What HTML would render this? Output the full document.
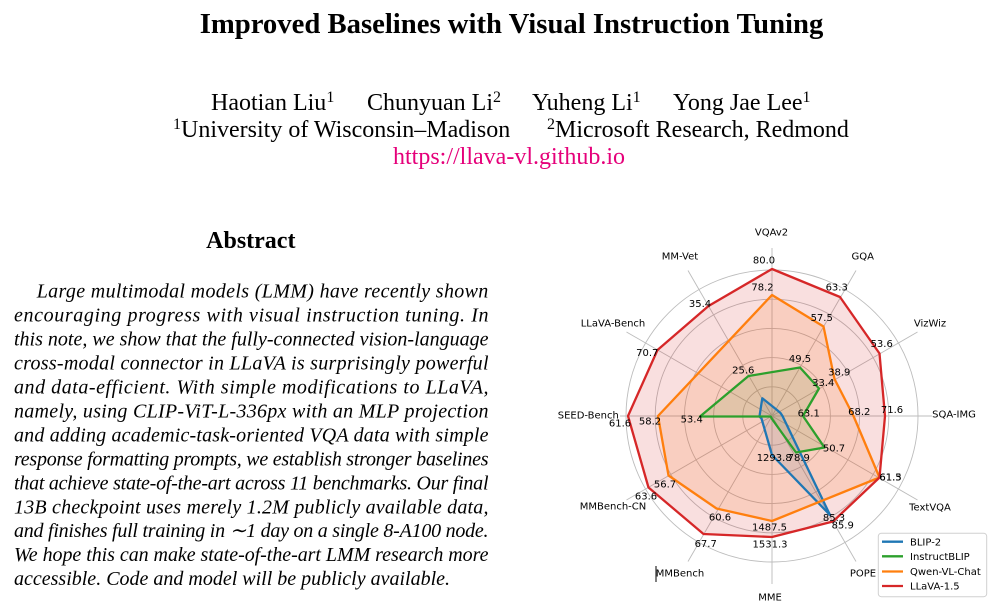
<!DOCTYPE html>
<html>
<head>
<meta charset="utf-8">
<style>
html,body{margin:0;padding:0;background:#fff;}
svg{display:block;}
.serif{font-family:"Liberation Serif","Times New Roman",serif;}
.sans{font-family:"DejaVu Sans","Liberation Sans",sans-serif;font-size:10px;fill:#000;}
</style>
</head>
<body>
<svg width="1000" height="605" viewBox="0 0 1000 605" xmlns="http://www.w3.org/2000/svg">
<rect width="1000" height="605" fill="#fff"/>

<!-- Title -->
<text class="serif" x="511.5" y="33" font-size="28.7" font-weight="bold" text-anchor="middle" fill="#000">Improved Baselines with Visual Instruction Tuning</text>

<!-- Authors -->
<g class="serif" font-size="24" fill="#000">
  <text x="211" y="110">Haotian Liu<tspan font-size="16" dy="-8">1</tspan></text>
  <text x="367" y="110">Chunyuan Li<tspan font-size="16" dy="-8">2</tspan></text>
  <text x="532" y="110">Yuheng Li<tspan font-size="16" dy="-8">1</tspan></text>
  <text x="673" y="110">Yong Jae Lee<tspan font-size="16" dy="-8">1</tspan></text>

  <text x="173" y="137"><tspan font-size="16" dy="-8">1</tspan><tspan dy="8">University of Wisconsin–Madison</tspan></text>
  <text x="547" y="137"><tspan font-size="16" dy="-8">2</tspan><tspan dy="8">Microsoft Research, Redmond</tspan></text>
</g>
<text class="serif" x="509" y="164" font-size="24" text-anchor="middle" fill="#e5007a">https://llava-vl.github.io</text>

<!-- Abstract -->
<text class="serif" x="250.8" y="248" font-size="24" font-weight="bold" text-anchor="middle" fill="#000">Abstract</text>
<g class="serif" font-size="20" font-style="italic" fill="#000">
  <text x="36.7" y="297.7" textLength="451.6" lengthAdjust="spacing">Large multimodal models (LMM) have recently shown</text>
  <text x="14" y="321.65" textLength="474.5" lengthAdjust="spacing">encouraging progress with visual instruction tuning.  In</text>
  <text x="14" y="345.6" textLength="474.5" lengthAdjust="spacing">this note, we show that the fully-connected vision-language</text>
  <text x="14" y="369.55" textLength="474.5" lengthAdjust="spacing">cross-modal connector in LLaVA is surprisingly powerful</text>
  <text x="14" y="393.5" textLength="474.5" lengthAdjust="spacing">and data-efficient.  With simple modifications to LLaVA,</text>
  <text x="14" y="417.45" textLength="474.5" lengthAdjust="spacing">namely, using CLIP-ViT-L-336px with an MLP projection</text>
  <text x="14" y="441.4" textLength="474.5" lengthAdjust="spacing">and adding academic-task-oriented VQA data with simple</text>
  <text x="14" y="465.35" textLength="474.5" lengthAdjust="spacing">response formatting prompts, we establish stronger baselines</text>
  <text x="14" y="489.3" textLength="474.5" lengthAdjust="spacing">that achieve state-of-the-art across 11 benchmarks. Our final</text>
  <text x="14" y="513.25" textLength="474.5" lengthAdjust="spacing">13B checkpoint uses merely 1.2M publicly available data,</text>
  <text x="14" y="537.2" textLength="474.5" lengthAdjust="spacing">and finishes full training in ∼1 day on a single 8-A100 node.</text>
  <text x="14" y="561.15" textLength="474.5" lengthAdjust="spacing">We hope this can make state-of-the-art LMM research more</text>
  <text x="14" y="585.1">accessible. Code and model will be publicly available.</text>
</g>

<!-- Radar chart grid -->
<g fill="none" stroke="#bcbcbc" stroke-width="0.9">
  <circle cx="772" cy="416" r="29.2"/>
  <circle cx="772" cy="416" r="58.4"/>
  <circle cx="772" cy="416" r="87.6"/>
  <circle cx="772" cy="416" r="116.8"/>
  <circle cx="772" cy="416" r="146"/>
  <line x1="772" y1="416" x2="772" y2="248"/>
  <line x1="772" y1="416" x2="856" y2="270.5"/>
  <line x1="772" y1="416" x2="917.5" y2="332"/>
  <line x1="772" y1="416" x2="932" y2="416"/>
  <line x1="772" y1="416" x2="917.5" y2="500"/>
  <line x1="772" y1="416" x2="856" y2="561.5"/>
  <line x1="772" y1="416" x2="772" y2="584"/>
  <line x1="772" y1="416" x2="688" y2="561.5"/>
  <line x1="772" y1="416" x2="626.5" y2="500"/>
  <line x1="772" y1="416" x2="620" y2="416"/>
  <line x1="772" y1="416" x2="626.5" y2="332"/>
  <line x1="772" y1="416" x2="688" y2="270.5"/>
</g>

<!-- Fills -->
<polygon points="762.3,398.3 772,406 777,410 780.5,413 782.5,416 830,515 772,455 761.5,418.5 759.5,416.5 760,413"
  fill="#1f77b4" fill-opacity="0.15" stroke="none"/>
<polygon points="800,367.5 819,388.5 803,416 824.5,447.5 796,452.5 772,419 771,417 770.5,416.5 700,416.5 748.5,376"
  fill="#2ca02c" fill-opacity="0.15" stroke="none"/>
<polygon points="772,295 823.5,326.5 834.5,379 853.5,416 879.5,477.5 772,521 716.5,508.5 668.5,475.5 658,416"
  fill="#ff7f0e" fill-opacity="0.15" stroke="none"/>
<polygon points="772,269 840,297 879.5,353.5 885,416 879.5,477.5 833,521.5 772,537 703.5,534 648.5,487.5 628,416 657.5,350 708.5,306"
  fill="#d62728" fill-opacity="0.15" stroke="none"/>

<!-- Lines -->
<polygon points="762.3,398.3 772,406 777,410 780.5,413 782.5,416 830,515 772,455 761.5,418.5 759.5,416.5 760,413"
  fill="none" stroke="#1f77b4" stroke-width="2.3" stroke-linejoin="round"/>
<polygon points="800,367.5 819,388.5 803,416 824.5,447.5 796,452.5 772,419 771,417 770.5,416.5 700,416.5 748.5,376"
  fill="none" stroke="#2ca02c" stroke-width="2.3" stroke-linejoin="round"/>
<polygon points="772,295 823.5,326.5 834.5,379 853.5,416 879.5,477.5 772,521 716.5,508.5 668.5,475.5 658,416"
  fill="none" stroke="#ff7f0e" stroke-width="2.3" stroke-linejoin="round"/>
<polygon points="772,269 840,297 879.5,353.5 885,416 879.5,477.5 833,521.5 772,537 703.5,534 648.5,487.5 628,416 657.5,350 708.5,306"
  fill="none" stroke="#d62728" stroke-width="2.3" stroke-linejoin="round"/>

<!-- Value labels -->
<g class="sans" text-anchor="middle">
  <text x="764" y="263.6">80.0</text>
  <text x="762.5" y="290.3">78.2</text>
  <text x="836.7" y="290.3">63.3</text>
  <text x="821.7" y="320.9">57.5</text>
  <text x="800" y="361.9">49.5</text>
  <text x="881.7" y="346.9">53.6</text>
  <text x="839.3" y="375.3">38.9</text>
  <text x="823.3" y="385.9">33.4</text>
  <text x="892" y="412.9">71.6</text>
  <text x="859.3" y="414.9">68.2</text>
  <text x="808.7" y="416.3">63.1</text>
  <text x="890.5" y="480.3">61.3</text>
  <text x="890.5" y="480.3">61.5</text>
  <text x="834" y="451.3">50.7</text>
  <text x="834" y="520.9">85.3</text>
  <text x="842.7" y="528.6">85.9</text>
  <text x="798.8" y="461">78.9</text>
  <text x="774.2" y="461">1293.8</text>
  <text x="769.5" y="530.6">1487.5</text>
  <text x="770" y="547.6">1531.3</text>
  <text x="705.7" y="546.9">67.7</text>
  <text x="720" y="520.3">60.6</text>
  <text x="646" y="499.6">63.6</text>
  <text x="665" y="487.6">56.7</text>
  <text x="620" y="426.3">61.6</text>
  <text x="650" y="424.3">58.2</text>
  <text x="691.7" y="422.6">53.4</text>
  <text x="647.3" y="355.9">70.7</text>
  <text x="700" y="306.9">35.4</text>
  <text x="743.3" y="373.6">25.6</text>
</g>

<!-- Axis labels -->
<g class="sans" text-anchor="middle">
  <text x="771.5" y="235.6">VQAv2</text>
  <text x="862.7" y="259.6">GQA</text>
  <text x="930" y="326.6">VizWiz</text>
  <text x="954" y="417.6">SQA-IMG</text>
  <text x="930" y="510.6">TextVQA</text>
  <text x="863" y="576.6">POPE</text>
  <text x="770" y="600.6">MME</text>
  <text x="680" y="576.6">MMBench</text>
  <text x="613" y="509.6">MMBench-CN</text>
  <text x="588.3" y="418.6">SEED-Bench</text>
  <text x="613" y="326.6">LLaVA-Bench</text>
  <text x="680" y="259.6">MM-Vet</text>
</g>
<line x1="656" y1="566" x2="656" y2="582" stroke="#000" stroke-width="1"/>

<!-- Legend -->
<rect x="878.3" y="533.3" width="108.4" height="63.4" rx="3" ry="3" fill="#fff" fill-opacity="0.8" stroke="#d0d0d0" stroke-width="1"/>
<g stroke-width="2.3">
  <line x1="882" y1="541.7" x2="903" y2="541.7" stroke="#1f77b4"/>
  <line x1="882" y1="556.3" x2="903" y2="556.3" stroke="#2ca02c"/>
  <line x1="882" y1="571.5" x2="903" y2="571.5" stroke="#ff7f0e"/>
  <line x1="882" y1="586" x2="903" y2="586" stroke="#d62728"/>
</g>
<g class="sans">
  <text x="910" y="545.3">BLIP-2</text>
  <text x="910" y="559.9">InstructBLIP</text>
  <text x="910" y="575.1">Qwen-VL-Chat</text>
  <text x="910" y="589.6">LLaVA-1.5</text>
</g>
</svg>
</body>
</html>
